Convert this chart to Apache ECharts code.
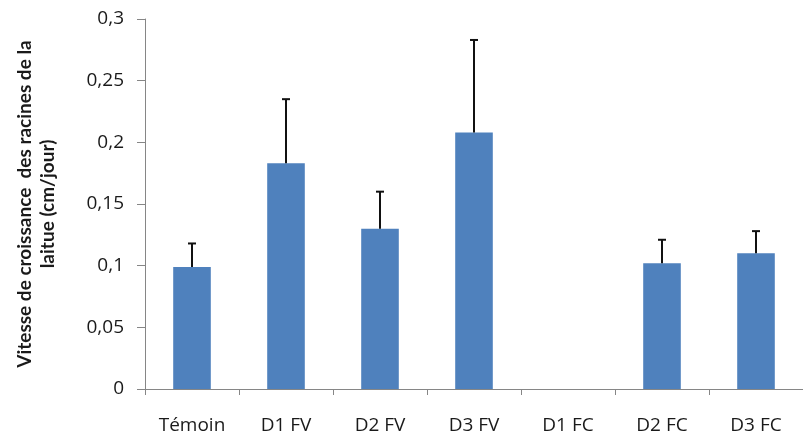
<!DOCTYPE html>
<html>
<head>
<meta charset="utf-8">
<script src="https://cdn.jsdelivr.net/npm/echarts@6/dist/echarts.min.js"></script>
<style>
  html, body { margin: 0; padding: 0; background: #fff; }
  #chart { width: 803px; height: 436px; }
</style>
</head>
<body>
<div id="chart"></div>
<script>
// Treatments
const categories = ['Témoin', 'D1 FV', 'D2 FV', 'D3 FV', 'D1 FC', 'D2 FC', 'D3 FC'];
// Mean root growth rate (cm/day)
const growthRate = [0.099, 0.183, 0.130, 0.208, 0, 0.102, 0.110];
// Standard deviation (upper error bar)
const growthErr = [0.019, 0.052, 0.030, 0.075, 0, 0.019, 0.018];
// Value axis ticks
const yMin = 0, yMax = 0.3, yStep = 0.05;
const yTitleLines = ['Vitesse de croissance  des racines de la', 'laitue (cm/jour)'];

const TICK_FONT = '"Open Sans", Lato, "Noto Sans", sans-serif';
const TITLE_FONT = 'Lato, "Open Sans", "Noto Sans", sans-serif';
const chart = echarts.init(document.getElementById('chart'));

const errData = categories.map((c, i) => [i, growthRate[i], growthRate[i] + growthErr[i]]);

chart.setOption({
  animation: false,
  grid: { left: 145, right: -11, top: 19, bottom: 47, containLabel: false },
  xAxis: {
    type: 'category',
    data: categories,
    axisLine: { lineStyle: { color: '#868686', width: 1 } },
    axisTick: { show: true, length: 6, lineStyle: { color: '#868686' } },
    axisLabel: { color: '#1a1a1a', fontFamily: TICK_FONT, fontSize: 19, margin: 27 }
  },
  yAxis: {
    type: 'value',
    min: yMin, max: yMax, interval: yStep,
    splitLine: { show: false },
    axisLine: { show: true, lineStyle: { color: '#868686', width: 1 } },
    axisTick: { show: true, length: 8, lineStyle: { color: '#868686' } },
    axisLabel: {
      color: '#1a1a1a', fontFamily: TICK_FONT, fontSize: 19, margin: 21,
      formatter: v => String(+v.toFixed(2)).replace('.', ',')
    }
  },
  graphic: [{
    type: 'text',
    x: 36, y: 204,
    rotation: Math.PI / 2,
    style: {
      text: yTitleLines.join('\n'),
      fontFamily: TITLE_FONT, fontSize: 19, fontWeight: 'bold',
      fill: '#1a1a1a', align: 'center', verticalAlign: 'middle', lineHeight: 23
    }
  }],
  series: [{
    type: 'bar',
    data: growthRate,
    barWidth: '40%',
    itemStyle: { color: '#4F81BD' }
  }, {
    type: 'custom',
    data: errData,
    z: 3,
    renderItem: function (params, api) {
      const i = api.value(0);
      const lo = api.coord([i, api.value(1)]);
      const hi = api.coord([i, api.value(2)]);
      if (api.value(2) - api.value(1) <= 0) return null;
      const half = 4;
      const style = { stroke: '#111', lineWidth: 2 };
      return {
        type: 'group',
        children: [
          { type: 'line', shape: { x1: lo[0], y1: lo[1], x2: hi[0], y2: hi[1] }, style },
          { type: 'line', shape: { x1: hi[0] - half, y1: hi[1], x2: hi[0] + half, y2: hi[1] }, style }
        ]
      };
    }
  }]
});
</script>
</body>
</html>
